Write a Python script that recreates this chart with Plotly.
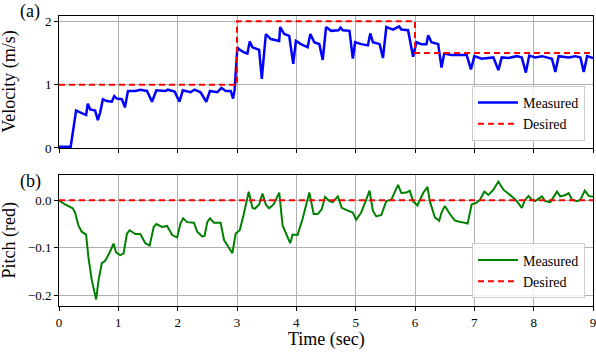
import plotly.graph_objects as go

# ---------------- data ----------------
vel_time = [0.0, 0.197, 0.288, 0.355, 0.457, 0.485, 0.525, 0.609, 0.654, 0.694, 0.739, 0.806, 0.891,
            0.931, 0.976, 1.06, 1.111, 1.162, 1.286, 1.37, 1.483, 1.568, 1.641, 1.794, 1.833, 1.95,
            2.03, 2.087, 2.217, 2.284, 2.386, 2.482, 2.544, 2.668, 2.736, 2.81, 2.894, 2.934, 2.96,
            3.006, 3.034, 3.119, 3.175, 3.215, 3.26, 3.373, 3.418, 3.486, 3.57, 3.71, 3.728, 3.796,
            3.88, 3.948, 3.993, 4.078, 4.19, 4.236, 4.303, 4.388, 4.445, 4.501, 4.586, 4.71, 4.744,
            4.783, 4.896, 4.952, 4.992, 5.094, 5.206, 5.246, 5.291, 5.404, 5.46, 5.517, 5.63, 5.732,
            5.77, 5.883, 5.968, 6.024, 6.109, 6.193, 6.222, 6.278, 6.391, 6.447, 6.492, 6.616, 6.87,
            6.943, 7.0, 7.124, 7.208, 7.321, 7.406, 7.462, 7.575, 7.716, 7.8, 7.868, 7.925, 8.026,
            8.139, 8.308, 8.365, 8.421, 8.59, 8.703, 8.788, 8.844, 8.901, 9.0]
vel_measured = [0.02, 0.02, 0.59, 0.56, 0.52, 0.70, 0.61, 0.59, 0.44, 0.56, 0.77, 0.74, 0.73,
                0.82, 0.78, 0.77, 0.64, 0.90, 0.90, 0.92, 0.90, 0.73, 0.91, 0.90, 0.92, 0.89,
                0.73, 0.91, 0.88, 0.92, 0.88, 0.73, 0.90, 0.88, 0.95, 0.90, 0.90, 0.78, 0.92,
                1.59, 1.56, 1.51, 1.49, 1.68, 1.59, 1.55, 1.09, 1.80, 1.72, 1.69, 1.91, 1.80,
                1.77, 1.33, 1.69, 1.64, 1.59, 1.80, 1.67, 1.64, 1.39, 1.91, 1.85, 1.86, 1.90,
                1.86, 1.85, 1.41, 1.67, 1.64, 1.62, 1.81, 1.67, 1.64, 1.42, 1.91, 1.87, 1.92,
                1.87, 1.86, 1.44, 1.67, 1.64, 1.64, 1.78, 1.67, 1.64, 1.27, 1.49, 1.47, 1.47,
                1.24, 1.45, 1.41, 1.42, 1.43, 1.23, 1.43, 1.42, 1.45, 1.43, 1.19, 1.46, 1.43,
                1.45, 1.41, 1.20, 1.45, 1.43, 1.45, 1.43, 1.20, 1.45, 1.42]

desired_vel_time = [0, 3, 6, 9]
desired_vel = [1.0, 2.0, 1.5, 1.5]

pitch_time = [0.0, 0.1, 0.186, 0.231, 0.271, 0.327, 0.383, 0.457, 0.496, 0.553, 0.626, 0.666, 0.722,
              0.778, 0.852, 0.919, 0.964, 1.032, 1.088, 1.145, 1.19, 1.286, 1.37, 1.455, 1.528,
              1.596, 1.641, 1.737, 1.822, 1.907, 1.991, 2.047, 2.092, 2.16, 2.273, 2.329, 2.414,
              2.453, 2.499, 2.544, 2.612, 2.724, 2.78, 2.922, 2.978, 3.046, 3.108, 3.198, 3.26,
              3.3, 3.373, 3.43, 3.486, 3.542, 3.616, 3.712, 3.768, 3.897, 3.937, 4.021, 4.106,
              4.219, 4.292, 4.36, 4.428, 4.484, 4.558, 4.614, 4.699, 4.766, 4.868, 4.952, 5.008,
              5.093, 5.178, 5.234, 5.29, 5.347, 5.432, 5.516, 5.601, 5.657, 5.714, 5.77, 5.855,
              5.911, 5.968, 6.041, 6.137, 6.21, 6.25, 6.335, 6.408, 6.447, 6.504, 6.588, 6.673,
              6.786, 6.887, 6.954, 7.039, 7.095, 7.169, 7.237, 7.322, 7.405, 7.49, 7.631, 7.716,
              7.8, 7.857, 7.913, 7.97, 8.026, 8.111, 8.139, 8.195, 8.28, 8.393, 8.449, 8.534,
              8.59, 8.647, 8.731, 8.788, 8.861, 8.929, 9.0]
pitch_measured = [0.0, -0.009, -0.014, -0.017, -0.026, -0.053, -0.066, -0.072, -0.120, -0.168, -0.208,
                  -0.168, -0.132, -0.127, -0.110, -0.091, -0.110, -0.115, -0.112, -0.070, -0.063,
                  -0.071, -0.071, -0.090, -0.095, -0.056, -0.050, -0.056, -0.054, -0.073, -0.078,
                  -0.049, -0.038, -0.046, -0.047, -0.066, -0.076, -0.075, -0.046, -0.038, -0.047,
                  -0.047, -0.083, -0.111, -0.070, -0.063, -0.032, 0.018, -0.016, -0.018, -0.009,
                  0.014, -0.009, -0.017, -0.009, 0.016, -0.053, -0.090, -0.072, -0.073, -0.039,
                  0.016, -0.029, -0.029, -0.019, 0.007, -0.002, -0.004, 0.008, -0.016, -0.022,
                  -0.026, -0.041, -0.026, 0.001, 0.020, -0.022, -0.034, -0.031, -0.002, 0.001,
                  0.018, 0.032, 0.015, 0.016, 0.020, -0.002, -0.011, 0.015, 0.028, -0.002, -0.036,
                  -0.043, -0.026, -0.012, -0.029, -0.043, -0.046, -0.049, -0.009, -0.005, 0.001,
                  0.018, 0.011, 0.022, 0.039, 0.022, 0.008, -0.002, -0.016, 0.001, 0.009, 0.001,
                  -0.002, 0.005, 0.008, -0.002, -0.004, 0.018, 0.008, 0.011, 0.015, 0.001, -0.002,
                  0.001, 0.020, 0.009, 0.007]

desired_pitch_time = [0, 9]
desired_pitch = [0.0, 0.0]

x_ticks = [0, 1, 2, 3, 4, 5, 6, 7, 8, 9]
vel_ticks = [0, 1, 2]
pitch_ticks = [0.0, -0.1, -0.2]

# ---------------- figure ----------------
FONT = "Liberation Serif"
fig = go.Figure()

fig.add_trace(go.Scatter(x=vel_time, y=vel_measured, mode="lines", name="Measured",
                         line=dict(color="#0000ff", width=2.5), xaxis="x", yaxis="y",
                         legend="legend"))
fig.add_trace(go.Scatter(x=desired_vel_time, y=desired_vel, mode="lines", name="Desired",
                         line=dict(color="#ff0000", width=2, dash="6px,4px", shape="hv"),
                         xaxis="x", yaxis="y", legend="legend"))
fig.add_trace(go.Scatter(x=pitch_time, y=pitch_measured, mode="lines", name="Measured",
                         line=dict(color="#008000", width=2), xaxis="x2", yaxis="y2",
                         legend="legend2"))
fig.add_trace(go.Scatter(x=desired_pitch_time, y=desired_pitch, mode="lines", name="Desired",
                         line=dict(color="#ff0000", width=2, dash="6px,4px"),
                         xaxis="x2", yaxis="y2", legend="legend2"))

axis_common = dict(showline=True, linecolor="black", linewidth=1, mirror=True,
                   ticks="outside", ticklen=4, tickcolor="black",
                   showgrid=True, gridcolor="#b0b0b0", gridwidth=1, zeroline=False,
                   ticklabeloverflow="allow",
                   tickfont=dict(family=FONT, size=13, color="black"))

legend_common = dict(bgcolor="rgba(255,255,255,0.85)", bordercolor="#cccccc", borderwidth=1,
                     font=dict(family=FONT, size=14, color="black"),
                     xanchor="right", yanchor="bottom", x=0.985,
                     tracegroupgap=0, itemwidth=40)

fig.update_layout(
    width=596, height=360,
    margin=dict(l=59, r=3, t=0, b=0),
    paper_bgcolor="white", plot_bgcolor="white",
    font=dict(family=FONT, color="black"),
    xaxis=dict(domain=[0, 1], anchor="y", range=[0, 9], tickvals=x_ticks,
               showticklabels=False, **axis_common),
    yaxis=dict(domain=[0.583, 0.961], anchor="x", range=[0, 2.09], tickvals=vel_ticks,
               **axis_common),
    xaxis2=dict(domain=[0, 1], anchor="y2", range=[0, 9], tickvals=x_ticks, **axis_common),
    yaxis2=dict(domain=[0.131, 0.506], anchor="x2", range=[-0.222, 0.053],
                tickvals=pitch_ticks, tickformat=".1f", **axis_common),
    legend=dict(y=0.603, **legend_common),
    legend2=dict(y=0.153, **legend_common),
    showlegend=True,
    annotations=[
        dict(text="Velocity (m/s)", xref="paper", yref="paper", x=-0.092, y=0.772,
             textangle=-90, showarrow=False, xanchor="center", yanchor="middle",
             font=dict(family=FONT, size=18)),
        dict(text="Pitch (red)", xref="paper", yref="paper", x=-0.092, y=0.318,
             textangle=-90, showarrow=False, xanchor="center", yanchor="middle",
             font=dict(family=FONT, size=18)),
        dict(text="Time (sec)", xref="paper", yref="paper", x=0.5, y=0.036,
             showarrow=False, xanchor="center", yanchor="middle",
             font=dict(family=FONT, size=18)),
        dict(text="(a)", xref="paper", yref="paper", x=-0.054, y=0.972,
             showarrow=False, xanchor="center", yanchor="middle",
             font=dict(family=FONT, size=18)),
        dict(text="(b)", xref="paper", yref="paper", x=-0.054, y=0.486,
             showarrow=False, xanchor="center", yanchor="middle",
             font=dict(family=FONT, size=18)),
    ],
)

fig.write_html("out.html", config={"displayModeBar": False},
               post_script="document.body.style.margin='0';document.body.style.padding='0';")
